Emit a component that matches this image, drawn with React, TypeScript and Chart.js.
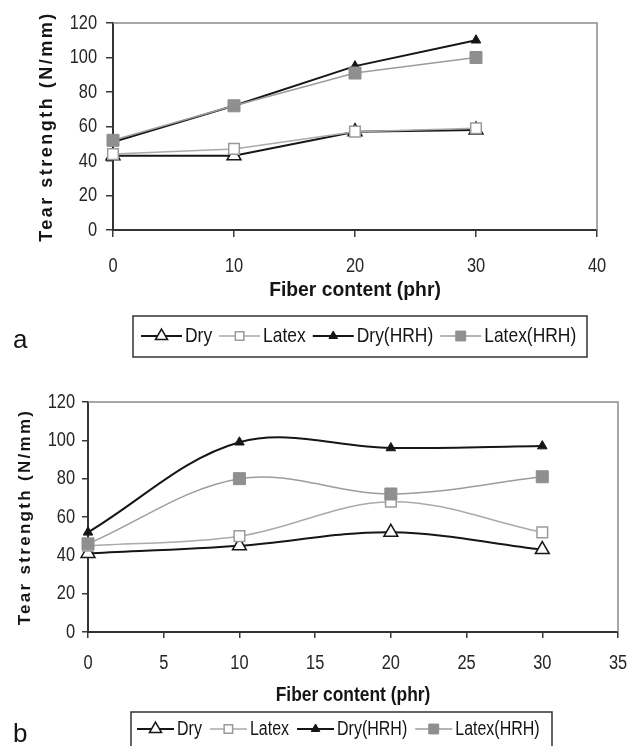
import React, { useEffect, useRef } from 'react';
import { Chart, registerables } from 'chart.js';

Chart.register(...registerables);

// ---------------- data ----------------
const seriesNames = ['Dry', 'Latex', 'Dry(HRH)', 'Latex(HRH)'];

const fiberA = [0, 10, 20, 30];
const dryA = [43, 43, 57, 58];
const latexA = [44, 47, 57, 59];
const dryHrhA = [51, 72, 95, 110];
const latexHrhA = [52, 72, 91, 100];

const fiberB = [0, 10, 20, 30];
const dryB = [41, 45, 52, 43];
const latexB = [45, 50, 68, 52];
const dryHrhB = [52, 99, 96, 97];
const latexHrhB = [46, 80, 72, 81];

const yTitleText = 'Tear strength (N/mm)';
const xTitleText = 'Fiber content (phr)';

// ---------------- styles ----------------
const SANS = "'Liberation Sans', Arial, sans-serif";

type Style = {
  color: string;
  lineWidth: number;
  point: 'triangle' | 'rect';
  radius: number;
  fill: string;
  border: string;
  borderW: number;
  legendRadius: number;
  order: number;
};

const seriesStyles: Style[] = [
  { color: '#161616', lineWidth: 2, point: 'triangle', radius: 8, fill: '#ffffff', border: '#161616', borderW: 1.5, legendRadius: 7, order: 3 },
  { color: '#aaaaaa', lineWidth: 1.5, point: 'rect', radius: 7.5, fill: '#ffffff', border: '#9a9a9a', borderW: 1.5, legendRadius: 6, order: 2 },
  { color: '#161616', lineWidth: 2, point: 'triangle', radius: 5.5, fill: '#161616', border: '#161616', borderW: 1, legendRadius: 5, order: 1 },
  { color: '#9c9c9c', lineWidth: 1.5, point: 'rect', radius: 8.5, fill: '#8f8f8f', border: '#8f8f8f', borderW: 1, legendRadius: 7, order: 0 },
];

type Layout = {
  height: number;
  padTop: number;
  padRight: number;
  padBottom: number;
  yWidth: number;
  xHeight: number;
  tickLen: number;
  tickSize: number;
  tickSx: number;
  yLabelRight: number;
  xLabelY: number;
  xTitleY: number;
  xTitleSize: number;
  xTitleSx: number;
  yTitleX: number;
  yTitleSize: number;
  yTitleSpacing: number;
  legendBox: [number, number, number, number];
  legendStartX: number;
  legendLineLen: number;
  legendTextGap: number;
  legendItemGap: number;
  legendFont: number;
  legendSx: number;
  legendTextY: number;
  panelLabel: string;
  panelLabelX: number;
  panelLabelY: number;
  smooth: number;
};

const layoutA: Layout = {
  height: 360, padTop: 23, padRight: 38, padBottom: 50, yWidth: 113, xHeight: 80,
  tickLen: 7, tickSize: 20, tickSx: 0.82, yLabelRight: 97, xLabelY: 266,
  xTitleY: 290, xTitleSize: 21, xTitleSx: 0.92,
  yTitleX: 47, yTitleSize: 18, yTitleSpacing: 2.5,
  legendBox: [133, 316, 454, 41], legendStartX: 141, legendLineLen: 41, legendTextGap: 3,
  legendItemGap: 7, legendFont: 21, legendSx: 0.83, legendTextY: 336,
  panelLabel: 'a', panelLabelX: 13, panelLabelY: 348, smooth: 0,
};

const layoutB: Layout = {
  height: 386, padTop: 42, padRight: 17, padBottom: 34, yWidth: 88, xHeight: 80,
  tickLen: 6, tickSize: 20, tickSx: 0.82, yLabelRight: 75, xLabelY: 303,
  xTitleY: 335, xTitleSize: 20, xTitleSx: 0.87,
  yTitleX: 25, yTitleSize: 17, yTitleSpacing: 2.3,
  legendBox: [131, 352, 421, 41], legendStartX: 137, legendLineLen: 37, legendTextGap: 3,
  legendItemGap: 8, legendFont: 20, legendSx: 0.8, legendTextY: 369,
  panelLabel: 'b', panelLabelX: 13, panelLabelY: 382, smooth: 0.35,
};

function drawMarker(ctx: CanvasRenderingContext2D, st: Style, x: number, y: number, r: number) {
  ctx.save();
  ctx.beginPath();
  if (st.point === 'triangle') {
    let rad = 0;
    ctx.moveTo(x + Math.sin(rad) * r, y - Math.cos(rad) * r);
    rad += (2 * Math.PI) / 3;
    ctx.lineTo(x + Math.sin(rad) * r, y - Math.cos(rad) * r);
    rad += (2 * Math.PI) / 3;
    ctx.lineTo(x + Math.sin(rad) * r, y - Math.cos(rad) * r);
    ctx.closePath();
  } else {
    const s = Math.SQRT1_2 * r;
    ctx.rect(x - s, y - s, 2 * s, 2 * s);
  }
  ctx.fillStyle = st.fill;
  ctx.fill();
  ctx.strokeStyle = st.border;
  ctx.lineWidth = st.borderW;
  ctx.stroke();
  ctx.restore();
}

// draws horizontally condensed text; returns drawn width
function condensedText(
  ctx: CanvasRenderingContext2D,
  text: string,
  x: number,
  y: number,
  font: string,
  sx: number,
  align: CanvasTextAlign,
  color: string
): number {
  ctx.save();
  ctx.font = font;
  ctx.fillStyle = color;
  ctx.textAlign = align;
  ctx.textBaseline = 'middle';
  ctx.translate(x, y);
  ctx.scale(sx, 1);
  ctx.fillText(text, 0, 0);
  const w = ctx.measureText(text).width * sx;
  ctx.restore();
  return w;
}

function makeExtras(L: Layout) {
  return {
    id: 'extras',
    beforeDatasetsDraw(chart: any) {
      const { ctx, chartArea: a } = chart;
      ctx.save();
      ctx.strokeStyle = '#8a8a8a';
      ctx.lineWidth = 1.5;
      ctx.beginPath();
      ctx.moveTo(a.left, a.top);
      ctx.lineTo(a.right, a.top);
      ctx.lineTo(a.right, a.bottom);
      ctx.stroke();
      ctx.restore();
    },
    afterDraw(chart: any) {
      const { ctx, chartArea: a } = chart;
      const xs = chart.scales.x;
      const ys = chart.scales.y;
      const tickFont = `${L.tickSize}px ${SANS}`;

      // tick labels (from the library's scales)
      xs.ticks.forEach((t: any) => {
        condensedText(ctx, String(t.value), xs.getPixelForValue(t.value), L.xLabelY, tickFont, L.tickSx, 'center', '#262626');
      });
      ys.ticks.forEach((t: any) => {
        condensedText(ctx, String(t.value), L.yLabelRight, ys.getPixelForValue(t.value), tickFont, L.tickSx, 'right', '#262626');
      });

      // x title
      condensedText(ctx, xTitleText, (a.left + a.right) / 2, L.xTitleY, `bold ${L.xTitleSize}px ${SANS}`, L.xTitleSx, 'center', '#151515');

      // y title
      ctx.save();
      ctx.translate(L.yTitleX, (a.top + a.bottom) / 2);
      ctx.rotate(-Math.PI / 2);
      ctx.font = `bold ${L.yTitleSize}px ${SANS}`;
      (ctx as any).letterSpacing = `${L.yTitleSpacing}px`;
      ctx.textAlign = 'center';
      ctx.textBaseline = 'middle';
      ctx.fillStyle = '#151515';
      ctx.fillText(yTitleText, 0, 0);
      ctx.restore();

      // legend
      ctx.save();
      const [bx, by, bw, bh] = L.legendBox;
      ctx.strokeStyle = '#333333';
      ctx.lineWidth = 1.5;
      ctx.strokeRect(bx, by, bw, bh);
      let x = L.legendStartX;
      const ty = L.legendTextY;
      seriesNames.forEach((name, i) => {
        const st = seriesStyles[i];
        ctx.strokeStyle = st.color;
        ctx.lineWidth = st.lineWidth;
        ctx.beginPath();
        ctx.moveTo(x, ty);
        ctx.lineTo(x + L.legendLineLen, ty);
        ctx.stroke();
        drawMarker(ctx, st, x + L.legendLineLen / 2, ty, st.legendRadius);
        const tx = x + L.legendLineLen + L.legendTextGap;
        const w = condensedText(ctx, name, tx, ty, `${L.legendFont}px ${SANS}`, L.legendSx, 'left', '#151515');
        x = tx + w + L.legendItemGap;
      });
      ctx.restore();

      // panel label
      ctx.save();
      ctx.font = `26px ${SANS}`;
      ctx.fillStyle = '#151515';
      ctx.textBaseline = 'alphabetic';
      ctx.textAlign = 'left';
      ctx.fillText(L.panelLabel, L.panelLabelX, L.panelLabelY);
      ctx.restore();
    },
  };
}

function buildConfig(L: Layout, xs: number[], series: number[][], xMax: number, xStep: number): any {
  const datasets = series.map((vals, i) => {
    const st = seriesStyles[i];
    return {
      label: seriesNames[i],
      data: xs.map((x, j) => ({ x, y: vals[j] })),
      borderColor: st.color,
      borderWidth: st.lineWidth,
      backgroundColor: st.fill,
      pointStyle: st.point,
      pointRadius: st.radius,
      pointBackgroundColor: st.fill,
      pointBorderColor: st.border,
      pointBorderWidth: st.borderW,
      tension: L.smooth,
      order: st.order,
      clip: false,
      fill: false,
    };
  });
  const gridCommon = {
    drawOnChartArea: false,
    drawTicks: true,
    tickLength: L.tickLen,
    color: '#3a3a3a',
    lineWidth: 1.5,
  };
  return {
    type: 'line',
    data: { datasets },
    options: {
      animation: false,
      responsive: false,
      maintainAspectRatio: false,
      events: [],
      layout: { padding: { top: L.padTop, right: L.padRight, bottom: L.padBottom, left: 0 } },
      plugins: { legend: { display: false }, tooltip: { enabled: false }, title: { display: false } },
      scales: {
        x: {
          type: 'linear',
          min: 0,
          max: xMax,
          ticks: { stepSize: xStep, display: false },
          grid: gridCommon,
          border: { color: '#333333', width: 2 },
          title: { display: false },
          afterFit: (s: any) => {
            s.height = L.xHeight;
          },
        },
        y: {
          min: 0,
          max: 120,
          ticks: { stepSize: 20, display: false },
          grid: gridCommon,
          border: { color: '#333333', width: 2 },
          afterFit: (s: any) => {
            s.width = L.yWidth;
          },
        },
      },
    },
    plugins: [makeExtras(L)],
  };
}

function Panel({ L, xs, series, xMax, xStep }: { L: Layout; xs: number[]; series: number[][]; xMax: number; xStep: number }) {
  const ref = useRef<HTMLCanvasElement | null>(null);
  useEffect(() => {
    if (!ref.current) return;
    const chart = new Chart(ref.current, buildConfig(L, xs, series, xMax, xStep));
    return () => chart.destroy();
  }, []);
  return <canvas ref={ref} width={635} height={L.height} style={{ display: 'block', width: 635, height: L.height }} />;
}

export default function App() {
  return (
    <div style={{ position: 'absolute', left: 0, top: 0, width: 635, height: 746, background: '#ffffff', overflow: 'hidden' }}>
      <Panel L={layoutA} xs={fiberA} series={[dryA, latexA, dryHrhA, latexHrhA]} xMax={40} xStep={10} />
      <Panel L={layoutB} xs={fiberB} series={[dryB, latexB, dryHrhB, latexHrhB]} xMax={35} xStep={5} />
    </div>
  );
}
